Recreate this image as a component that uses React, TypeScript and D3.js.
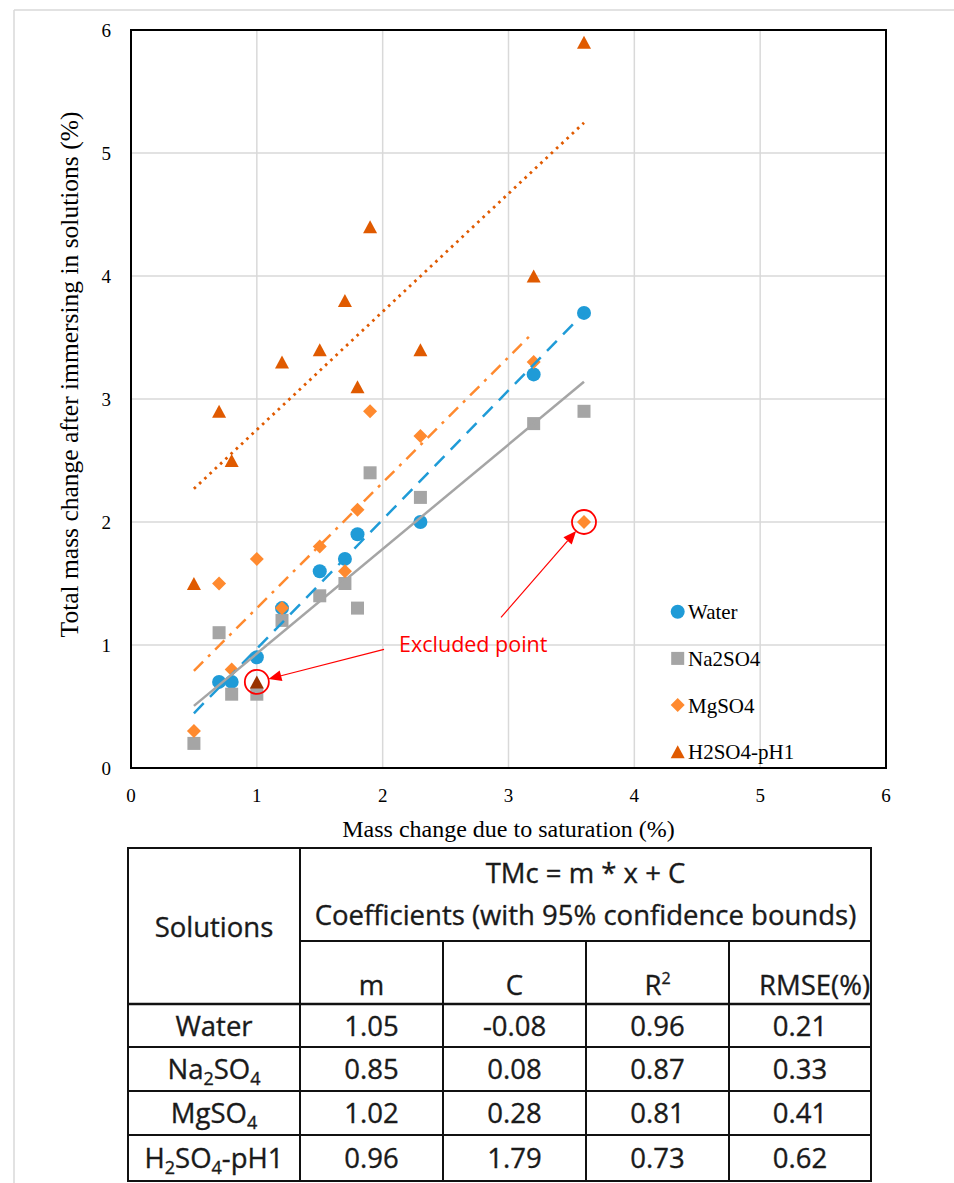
import React from 'react';
import * as d3 from 'd3';

const W = 954;
const H = 1183;

// Series values: x = mass change due to saturation (%), y = total mass change (%)
const waterX = [0.7, 0.8, 1.0, 1.2, 1.5, 1.7, 1.8, 2.3, 3.2, 3.6];
const waterY = [0.7, 0.7, 0.9, 1.3, 1.6, 1.7, 1.9, 2.0, 3.2, 3.7];
const na2so4X = [0.5, 0.7, 0.8, 1.0, 1.2, 1.5, 1.7, 1.8, 1.9, 2.3, 3.2, 3.6];
const na2so4Y = [0.2, 1.1, 0.6, 0.6, 1.2, 1.4, 1.5, 1.3, 2.4, 2.2, 2.8, 2.9];
const mgso4X = [0.5, 0.7, 0.8, 1.0, 1.2, 1.5, 1.7, 1.8, 1.9, 2.3, 3.2];
const mgso4Y = [0.3, 1.5, 0.8, 1.7, 1.3, 1.8, 1.6, 2.1, 2.9, 2.7, 3.3];
const h2so4X = [0.5, 0.7, 0.8, 1.2, 1.5, 1.7, 1.8, 1.9, 2.3, 3.2, 3.6];
const h2so4Y = [1.5, 2.9, 2.5, 3.3, 3.4, 3.8, 3.1, 4.4, 3.4, 4.0, 5.9];

// Points left out of the fits
const excludedSeries = [2, 3];
const excludedX = [3.6, 1.0];
const excludedY = [2.0, 0.7];

const seriesNames = ['Water', 'Na2SO4', 'MgSO4', 'H2SO4-pH1'];
const seriesShapes = ['circle', 'square', 'diamond', 'triangle'];
const seriesColors = ['#1F9BD7', '#A5A5A5', '#FF8A2F', '#E05A00'];
const excludedTriangleColor = '#993300';

// Fit coefficients TMc = m * x + C
const slopeM = [1.05, 0.85, 1.02, 0.96];
const interceptC = [-0.08, 0.08, 0.28, 1.79];
const rSquared = [0.96, 0.87, 0.81, 0.73];
const rmse = [0.21, 0.33, 0.41, 0.62];
const fitFrom = [0.5, 0.5, 0.5, 0.5];
const fitTo = [3.6, 3.6, 3.2, 3.6];
const fitDash = ['14 9', null, '13 7 3 7', '2.6 4.6'];

const xTicks = [0, 1, 2, 3, 4, 5, 6];
const yTicks = [0, 1, 2, 3, 4, 5, 6];

// Solution names in the table, with subscript segments
const tableNames: [string, boolean][][] = [
  [['Water', false]],
  [['Na', false], ['2', true], ['SO', false], ['4', true]],
  [['MgSO', false], ['4', true]],
  [['H', false], ['2', true], ['SO', false], ['4', true], ['-pH1', false]],
];

const annotationText = 'Excluded point';
const annotationX = 2.13;
const annotationY = 0.94;

const SERIF = '"Liberation Serif", "Times New Roman", serif';
const SANS = '"Open Sans", Lato, sans-serif';

function Marker({ shape, cx, cy, color }: { shape: string; cx: number; cy: number; color: string }) {
  if (shape === 'circle') return <circle cx={cx} cy={cy} r={7} fill={color} />;
  if (shape === 'square') return <rect x={cx - 6.5} y={cy - 6.5} width={13} height={13} fill={color} />;
  if (shape === 'diamond')
    return <path d={`M${cx},${cy - 7}L${cx + 7},${cy}L${cx},${cy + 7}L${cx - 7},${cy}Z`} fill={color} />;
  return <path d={`M${cx},${cy - 6.5}L${cx + 7},${cy + 6.5}L${cx - 7},${cy + 6.5}Z`} fill={color} />;
}

function Arrow({ x1, y1, x2, y2 }: { x1: number; y1: number; x2: number; y2: number }) {
  const a = Math.atan2(y2 - y1, x2 - x1);
  const len = 13;
  const half = 5.5;
  const bx = x2 - len * Math.cos(a);
  const by = y2 - len * Math.sin(a);
  const px = -Math.sin(a) * half;
  const py = Math.cos(a) * half;
  return (
    <g>
      <line x1={x1} y1={y1} x2={bx} y2={by} stroke="#FF0000" strokeWidth={1.2} />
      <path d={`M${x2},${y2}L${bx + px},${by + py}L${bx - px},${by - py}Z`} fill="#FF0000" />
    </g>
  );
}

export default function App() {
  const x = d3.scaleLinear().domain([0, 6]).range([131, 886]);
  const y = d3.scaleLinear().domain([0, 6]).range([768, 30]);

  const seriesX = [waterX, na2so4X, mgso4X, h2so4X];
  const seriesY = [waterY, na2so4Y, mgso4Y, h2so4Y];

  const fitPath = (i: number) =>
    d3
      .line<[number, number]>()
      .x((d) => x(d[0]))
      .y((d) => y(d[1]))([
      [fitFrom[i], slopeM[i] * fitFrom[i] + interceptC[i]],
      [fitTo[i], slopeM[i] * fitTo[i] + interceptC[i]],
    ]) as string;

  // excluded point pixel centres
  const exPts = excludedX.map((ex, i) => ({ px: x(ex), py: y(excludedY[i]), s: excludedSeries[i] }));
  const ringR = 12;
  const lblX = x(annotationX);
  const lblY = y(annotationY);
  const arrowStarts = [
    [lblX - 15, lblY - 3],
    [lblX + 102, lblY - 35],
  ];
  const ringTargets = [exPts[1], exPts[0]];

  // table geometry
  const colX = [128, 300, 443, 586, 729, 871];
  const rowY = [848, 941, 1004, 1047, 1091, 1135, 1181];
  const tFont = 27.5;
  const ink = '#1a1a1a';

  return (
    <svg
      width={W}
      height={H}
      viewBox={`0 0 ${W} ${H}`}
      style={{ position: 'absolute', left: 0, top: 0, display: 'block', background: '#fff' }}
    >
      <rect x={0} y={0} width={W} height={H} fill="#fff" />
      {/* chart frame */}
      <line x1={14} y1={10} x2={W} y2={10} stroke="#D9D9D9" strokeWidth={1.5} />
      <line x1={14} y1={10} x2={14} y2={H} stroke="#D9D9D9" strokeWidth={1.5} />

      {/* grid */}
      <g stroke="#D9D9D9" strokeWidth={1.5}>
        {xTicks.slice(1, -1).map((t) => (
          <line key={'gx' + t} x1={x(t)} x2={x(t)} y1={y(6)} y2={y(0)} />
        ))}
        {yTicks.slice(1, -1).map((t) => (
          <line key={'gy' + t} x1={x(0)} x2={x(6)} y1={y(t)} y2={y(t)} />
        ))}
      </g>

      {/* markers */}
      {seriesX.map((xs, s) =>
        xs.map((xv, i) => (
          <Marker key={`m${s}-${i}`} shape={seriesShapes[s]} cx={x(xv)} cy={y(seriesY[s][i])} color={seriesColors[s]} />
        ))
      )}
      {exPts.map((p, i) => (
        <Marker
          key={'ex' + i}
          shape={seriesShapes[p.s]}
          cx={p.px}
          cy={p.py}
          color={seriesShapes[p.s] === 'triangle' ? excludedTriangleColor : seriesColors[p.s]}
        />
      ))}

      {/* fit lines */}
      {slopeM.map((_, i) => (
        <path
          key={'fit' + i}
          d={fitPath(i)}
          fill="none"
          stroke={seriesColors[i]}
          strokeWidth={i === 3 ? 2.8 : 2.5}
          strokeDasharray={fitDash[i] ?? undefined}
        />
      ))}

      {/* plot border */}
      <rect x={x(0)} y={y(6)} width={x(6) - x(0)} height={y(0) - y(6)} fill="none" stroke="#000" strokeWidth={2} />

      {/* tick labels */}
      <g fontFamily={SERIF} fontSize={19} fill="#000">
        {yTicks.map((t) => (
          <text key={'yt' + t} x={111} y={y(t) + 6.5} textAnchor="end">
            {t}
          </text>
        ))}
        {xTicks.map((t) => (
          <text key={'xt' + t} x={x(t)} y={801.5} textAnchor="middle">
            {t}
          </text>
        ))}
      </g>

      {/* axis titles */}
      <text x={(x(0) + x(6)) / 2} y={836.5} textAnchor="middle" fontFamily={SERIF} fontSize={24} fill="#000">
        Mass change due to saturation (%)
      </text>
      <text
        transform={`translate(78,374.5) rotate(-90)`}
        textAnchor="middle"
        fontFamily={SERIF}
        fontSize={25.5}
        fill="#000"
      >
        Total mass change after immersing in solutions (%)
      </text>

      {/* legend */}
      {seriesNames.map((n, i) => {
        const ly = 611.7 + i * 46.7;
        return (
          <g key={'lg' + i}>
            <Marker shape={seriesShapes[i]} cx={677.7} cy={ly} color={seriesColors[i]} />
            <text x={688} y={ly + 7.5} fontFamily={SERIF} fontSize={21} fill="#000">
              {n}
            </text>
          </g>
        );
      })}

      {/* excluded point annotation */}
      {exPts.map((p, i) => (
        <circle key={'ring' + i} cx={p.px} cy={p.py} r={ringR} fill="none" stroke="#FF0000" strokeWidth={1.8} />
      ))}
      {ringTargets.map((p, i) => {
        const [sx, sy] = arrowStarts[i];
        const a = Math.atan2(sy - p.py, sx - p.px);
        return (
          <Arrow key={'ar' + i} x1={sx} y1={sy} x2={p.px + ringR * Math.cos(a)} y2={p.py + ringR * Math.sin(a)} />
        );
      })}
      <text x={lblX} y={lblY} fontFamily={SANS} fontSize={21.5} fill="#FF0000">
        {annotationText}
      </text>

      {/* coefficient table */}
      <g stroke="#111" strokeWidth={2} fill="none">
        <rect x={colX[0]} y={rowY[0]} width={colX[5] - colX[0]} height={rowY[6] - rowY[0]} />
        <line x1={colX[1]} x2={colX[1]} y1={rowY[0]} y2={rowY[6]} />
        {[2, 3, 4].map((c) => (
          <line key={'tc' + c} x1={colX[c]} x2={colX[c]} y1={rowY[1]} y2={rowY[6]} />
        ))}
        <line x1={colX[1]} x2={colX[5]} y1={rowY[1]} y2={rowY[1]} />
        {[2, 3, 4, 5].map((r) => (
          <line key={'tr' + r} x1={colX[0]} x2={colX[5]} y1={rowY[r]} y2={rowY[r]} strokeWidth={r === 2 ? 2.5 : 2} />
        ))}
      </g>
      <g fontFamily={SANS} fontSize={tFont} fill={ink} stroke={ink} strokeWidth={0.35} textAnchor="middle">
        <text x={(colX[1] + colX[5]) / 2} y={883}>
          TMc = m * x + C
        </text>
        <text x={(colX[1] + colX[5]) / 2} y={925}>
          Coefficients (with 95% confidence bounds)
        </text>
        <text x={(colX[0] + colX[1]) / 2} y={937}>
          Solutions
        </text>
        <text x={(colX[1] + colX[2]) / 2} y={995}>
          m
        </text>
        <text x={(colX[2] + colX[3]) / 2} y={995}>
          C
        </text>
        <text x={(colX[3] + colX[4]) / 2} y={995}>
          R<tspan dy={-11} fontSize={16}>2</tspan>
        </text>
        <text x={colX[5] - 1} y={995} textAnchor="end">
          RMSE(%)
        </text>
        {tableNames.map((segs, r) => {
          const cy = (rowY[r + 2] + rowY[r + 3]) / 2 + 10;
          return (
            <g key={'row' + r}>
              <text x={(colX[0] + colX[1]) / 2} y={cy}>
                {segs.map(([t, sub], k) =>
                  sub ? (
                    <tspan key={k} fontSize={18} dy={6}>
                      {t}
                    </tspan>
                  ) : (
                    <tspan key={k} dy={k > 0 && segs[k - 1][1] ? -6 : 0}>
                      {t}
                    </tspan>
                  )
                )}
              </text>
              {[slopeM[r], interceptC[r], rSquared[r], rmse[r]].map((v, c) => (
                <text key={'v' + c} x={(colX[c + 1] + colX[c + 2]) / 2} y={cy}>
                  {v.toFixed(2)}
                </text>
              ))}
            </g>
          );
        })}
      </g>
    </svg>
  );
}
